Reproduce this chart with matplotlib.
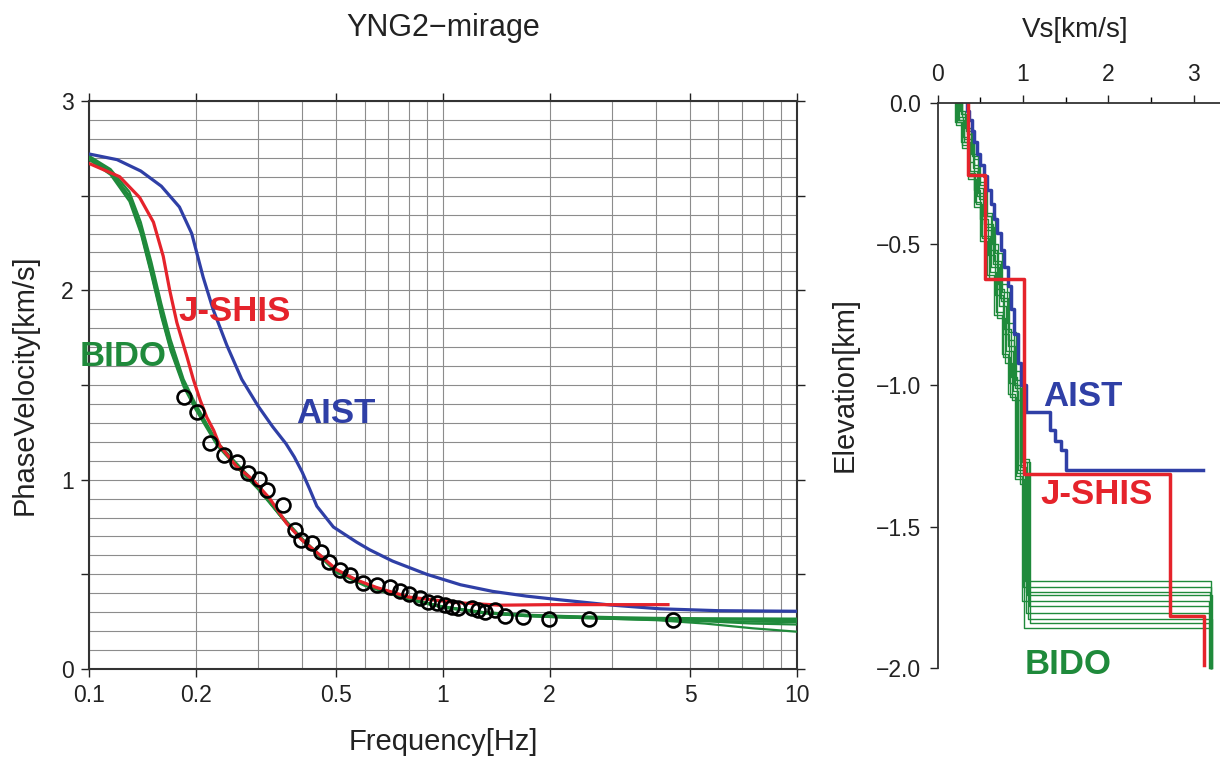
import numpy as np
import matplotlib
matplotlib.use('Agg')
import matplotlib.pyplot as plt
from matplotlib.ticker import FixedLocator, NullFormatter

plt.rcParams['font.family'] = ['Liberation Sans', 'DejaVu Sans']

BLUE = '#2f3fa6'
RED = '#e5232b'
GREEN = '#1f8a3b'

# ---- dispersion curves (frequency [Hz], phase velocity [km/s]) ----
aist_f = [0.1, 0.12, 0.14, 0.16, 0.18, 0.195, 0.21, 0.224, 0.245, 0.27, 0.30, 0.33, 0.36, 0.38,
          0.40, 0.42, 0.44, 0.49, 0.57, 0.62, 0.72, 0.90, 1.12, 1.38, 1.72, 2.15, 2.97, 4.1, 6.0, 10.0]
aist_v = [2.72, 2.69, 2.63, 2.55, 2.44, 2.30, 2.07, 1.90, 1.71, 1.53, 1.39, 1.28, 1.19, 1.12,
          1.04, 0.95, 0.86, 0.75, 0.67, 0.63, 0.57, 0.50, 0.445, 0.41, 0.385, 0.365, 0.338, 0.318, 0.308, 0.305]

jshis_f = [0.1, 0.122, 0.139, 0.152, 0.162, 0.169, 0.177, 0.189, 0.197, 0.206, 0.215, 0.225, 0.234,
           0.261, 0.29, 0.324, 0.361, 0.40, 0.45, 0.50, 0.57, 0.65, 0.8, 1.1, 1.45, 2.0, 4.32]
jshis_v = [2.67, 2.60, 2.49, 2.36, 2.18, 2.00, 1.83, 1.65, 1.53, 1.42, 1.33, 1.26, 1.18,
           1.07, 1.00, 0.90, 0.77, 0.68, 0.60, 0.525, 0.47, 0.43, 0.38, 0.35, 0.337, 0.34, 0.34]

bido_f = [0.1, 0.115, 0.13, 0.14, 0.15, 0.16, 0.17, 0.185, 0.2, 0.23, 0.26, 0.3, 0.35, 0.4,
          0.45, 0.5, 0.6, 0.7, 0.85, 1.0, 1.3, 1.7, 2.2, 3.0, 4.0, 5.5, 7.5, 10]
bido_v1 = [2.70, 2.62, 2.49, 2.32, 2.10, 1.88, 1.70, 1.50, 1.38, 1.19, 1.08, 0.96, 0.80, 0.68,
           0.60, 0.52, 0.45, 0.41, 0.36, 0.33, 0.30, 0.285, 0.277, 0.270, 0.266, 0.263, 0.260, 0.258]
bido_v2 = [2.71, 2.64, 2.52, 2.36, 2.15, 1.93, 1.74, 1.53, 1.40, 1.20, 1.09, 0.97, 0.81, 0.69,
           0.60, 0.52, 0.45, 0.41, 0.36, 0.33, 0.30, 0.287, 0.280, 0.274, 0.270, 0.268, 0.267, 0.266]
bido_v3 = [2.69, 2.61, 2.47, 2.30, 2.08, 1.86, 1.68, 1.49, 1.37, 1.18, 1.07, 0.95, 0.80, 0.68,
           0.59, 0.51, 0.44, 0.40, 0.355, 0.325, 0.295, 0.280, 0.272, 0.265, 0.260, 0.255, 0.250, 0.248]
bido_v4 = [2.70, 2.63, 2.50, 2.33, 2.12, 1.90, 1.71, 1.51, 1.38, 1.19, 1.08, 0.96, 0.80, 0.68,
           0.60, 0.52, 0.45, 0.40, 0.36, 0.328, 0.297, 0.282, 0.274, 0.267, 0.262, 0.252, 0.240, 0.235]
bido_v5 = [2.70, 2.62, 2.49, 2.31, 2.09, 1.87, 1.69, 1.50, 1.38, 1.19, 1.08, 0.96, 0.80, 0.68,
           0.60, 0.52, 0.45, 0.40, 0.355, 0.325, 0.295, 0.280, 0.272, 0.265, 0.258, 0.240, 0.215, 0.197]

# observed dispersion (circles)
obs_f = [0.185, 0.2015, 0.22, 0.24, 0.261, 0.282, 0.303, 0.319, 0.353, 0.382, 0.396, 0.426, 0.452,
         0.477, 0.512, 0.546, 0.596, 0.65, 0.709, 0.756, 0.803, 0.861, 0.909, 0.96, 1.013, 1.058,
         1.105, 1.205, 1.258, 1.314, 1.403, 1.496, 1.686, 1.997, 2.59, 4.47]
obs_v = [1.438, 1.356, 1.195, 1.130, 1.095, 1.034, 1.002, 0.946, 0.866, 0.734, 0.681, 0.664, 0.620,
         0.567, 0.523, 0.497, 0.453, 0.444, 0.435, 0.414, 0.396, 0.373, 0.356, 0.347, 0.338, 0.329,
         0.321, 0.321, 0.312, 0.303, 0.312, 0.280, 0.273, 0.264, 0.264, 0.259]

# ---- velocity profiles (layer boundaries elevation [km], Vs [km/s]) ----
aist_z = [0, -0.03, -0.06, -0.10, -0.14, -0.18, -0.22, -0.26, -0.31, -0.36, -0.41, -0.46, -0.52,
          -0.58, -0.65, -0.73, -0.82, -0.92, -1.00, -1.095, -1.157, -1.198, -1.227, -1.30, -1.30]
aist_vs = [0.34, 0.37, 0.40, 0.43, 0.46, 0.50, 0.54, 0.58, 0.62, 0.66, 0.70, 0.74, 0.78, 0.82,
           0.86, 0.90, 0.94, 0.98, 1.03, 1.32, 1.37, 1.45, 1.50, 3.11]

jshis_z = [0, -0.256, -0.623, -1.315, -1.816, -1.99]
jshis_vs = [0.36, 0.55, 1.01, 2.72, 3.12]

bido_z = [
    [0, -0.06, -0.14, -0.24, -0.33, -0.45, -0.58, -0.72, -0.88, -1.02, -1.30, -1.692, -2.0],
    [0, -0.04, -0.10, -0.19, -0.30, -0.40, -0.52, -0.66, -0.80, -0.97, -1.28, -1.712, -2.0],
    [0, -0.08, -0.16, -0.27, -0.36, -0.48, -0.62, -0.76, -0.92, -1.05, -1.35, -1.731, -2.0],
    [0, -0.05, -0.11, -0.22, -0.34, -0.44, -0.56, -0.70, -0.84, -1.00, -1.27, -1.743, -2.0],
    [0, -0.07, -0.15, -0.25, -0.35, -0.47, -0.60, -0.74, -0.90, -1.04, -1.32, -1.763, -2.0],
    [0, -0.03, -0.09, -0.18, -0.28, -0.39, -0.50, -0.64, -0.78, -0.95, -1.26, -1.781, -2.0],
    [0, -0.06, -0.13, -0.23, -0.32, -0.43, -0.57, -0.69, -0.86, -1.01, -1.29, -1.805, -2.0],
    [0, -0.05, -0.12, -0.21, -0.31, -0.41, -0.54, -0.68, -0.82, -0.99, -1.31, -1.826, -2.0],
    [0, -0.04, -0.11, -0.20, -0.29, -0.40, -0.53, -0.67, -0.81, -0.98, -1.27, -1.840, -2.0],
    [0, -0.07, -0.14, -0.26, -0.37, -0.49, -0.61, -0.75, -0.89, -1.03, -1.33, -1.857, -2.0],
]
bido_vs = [
    [0.24, 0.31, 0.38, 0.46, 0.55, 0.63, 0.72, 0.80, 0.88, 0.94, 1.02, 3.21],
    [0.27, 0.33, 0.40, 0.47, 0.53, 0.62, 0.70, 0.78, 0.86, 0.93, 1.00, 3.20],
    [0.21, 0.28, 0.36, 0.45, 0.52, 0.60, 0.69, 0.79, 0.87, 0.96, 1.04, 3.19],
    [0.29, 0.34, 0.42, 0.49, 0.57, 0.66, 0.74, 0.82, 0.90, 0.97, 1.05, 3.22],
    [0.23, 0.29, 0.37, 0.44, 0.51, 0.61, 0.68, 0.77, 0.85, 0.92, 0.99, 3.18],
    [0.26, 0.32, 0.39, 0.48, 0.56, 0.64, 0.71, 0.81, 0.89, 0.97, 1.07, 3.21],
    [0.25, 0.31, 0.41, 0.47, 0.54, 0.65, 0.73, 0.83, 0.91, 0.98, 1.03, 3.20],
    [0.22, 0.30, 0.37, 0.43, 0.50, 0.59, 0.67, 0.76, 0.84, 0.93, 1.06, 3.22],
    [0.28, 0.35, 0.43, 0.50, 0.58, 0.67, 0.75, 0.84, 0.92, 0.99, 1.08, 3.19],
    [0.20, 0.27, 0.35, 0.42, 0.50, 0.58, 0.66, 0.75, 0.83, 0.91, 1.01, 3.21],
]


def profile(vs, z):
    # turn layer list into a staircase line
    x = np.repeat(vs, 2)
    y = np.column_stack([z[:-1], z[1:]]).ravel()
    return x, y


fig = plt.figure(figsize=(12.2, 7.58), dpi=100)

# ------------------- left: dispersion -------------------
ax = fig.add_axes([0.0730, 0.1174, 0.5803, 0.7494])
ax.set_xscale('log')

for v in [bido_v1, bido_v2, bido_v3, bido_v4, bido_v5]:
    ax.plot(bido_f, v, color=GREEN, lw=1.6, zorder=3)
ax.plot(aist_f, aist_v, color=BLUE, lw=2.3, zorder=4)
ax.plot(jshis_f, jshis_v, color=RED, lw=2.3, zorder=4)
ax.plot(obs_f, obs_v, 'o', ms=10, mfc='none', mec='black', mew=1.9, zorder=5)

major_x = [0.1, 0.2, 0.5, 1, 2, 5, 10]
ax.xaxis.set_major_locator(FixedLocator(major_x))
ax.xaxis.set_minor_locator(FixedLocator([m * d for d in [0.1, 1] for m in range(1, 10)]))
ax.xaxis.set_minor_formatter(NullFormatter())
ax.set_xticks(major_x, ['0.1', '0.2', '0.5', '1', '2', '5', '10'])
ax.set_yticks([0, 0.5, 1, 1.5, 2, 2.5, 3], ['0', '', '1', '', '2', '', '3'])
ax.yaxis.set_minor_locator(FixedLocator(np.arange(31) / 10))
ax.set_xlim(0.1, 10)
ax.set_ylim(0, 3)

ax.grid(which='both', color='#8c8c8c', lw=0.8)
ax.set_axisbelow(True)
ax.tick_params(which='major', direction='out', length=6, width=1.0, top=True, right=True,
               labelsize=16.5, pad=5, colors='#222222')
ax.tick_params(which='minor', length=0)
for s in ax.spines.values():
    s.set_linewidth(1.5)
    s.set_color('#333333')

lab = dict(fontsize=25, fontweight='bold', va='center', ha='left', zorder=6)
ax.text(0.1784, 1.886, 'J-SHIS', color=RED, **lab)
ax.text(0.0943, 1.648, 'BIDO', color=GREEN, clip_on=False, **lab)
ax.text(0.384, 1.352, 'AIST', color=BLUE, **lab)

fig.text(443 / 1220, 1 - 28 / 758, 'YNG2\u2212mirage', ha='center', va='center', fontsize=22, color='#222222')
fig.text(443 / 1220, 1 - 742 / 758, 'Frequency[Hz]', ha='center', va='center', fontsize=21, color='#222222')
fig.text(25 / 1220, 1 - 385 / 758, 'PhaseVelocity[km/s]', ha='center', va='center', rotation=90,
         fontsize=21, color='#222222')

# ------------------- right: Vs profile -------------------
ax2 = fig.add_axes([0.7686, 0.1187, 0.2314, 0.7458])

for vs, z in zip(bido_vs, bido_z):
    x, y = profile(vs, z)
    ax2.plot(x, y, color=GREEN, lw=1.0, clip_on=False)
x, y = profile(aist_vs, aist_z)
ax2.plot(x, y, color=BLUE, lw=2.5)
x, y = profile(jshis_vs, jshis_z)
ax2.plot(x, y, color=RED, lw=2.5)

ax2.spines['right'].set_visible(False)
ax2.spines['bottom'].set_visible(False)
for s in ['top', 'left']:
    ax2.spines[s].set_linewidth(1.3)
    ax2.spines[s].set_color('#333333')
ax2.xaxis.tick_top()
ax2.set_xticks([0, 1, 2, 3])
ax2.xaxis.set_minor_locator(FixedLocator([0.5, 1.5, 2.5]))
ax2.set_yticks([0, -0.5, -1.0, -1.5, -2.0], ['0.0', '\u22120.5', '\u22121.0', '\u22121.5', '\u22122.0'])
ax2.set_xlim(0, 3.31)
ax2.set_ylim(-2.0, 0)
ax2.tick_params(which='major', direction='out', length=6, width=1.0, labelsize=16.5, pad=6,
                colors='#222222')
ax2.tick_params(which='minor', direction='out', length=4, width=1.0, top=True, bottom=False)

ax2.text(1.236, -1.040, 'AIST', color=BLUE, **lab)
ax2.text(1.20, -1.387, 'J-SHIS', color=RED, **lab)
ax2.text(1.025, -1.987, 'BIDO', color=GREEN, clip_on=False, **lab)

fig.text(1075 / 1220, 1 - 30 / 758, 'Vs[km/s]', ha='center', va='center', fontsize=20, color='#222222')
fig.text(845 / 1220, 1 - 385 / 758, 'Elevation[km]', ha='center', va='center', rotation=90,
         fontsize=21, color='#222222')

fig.savefig('out.png', dpi=100)
